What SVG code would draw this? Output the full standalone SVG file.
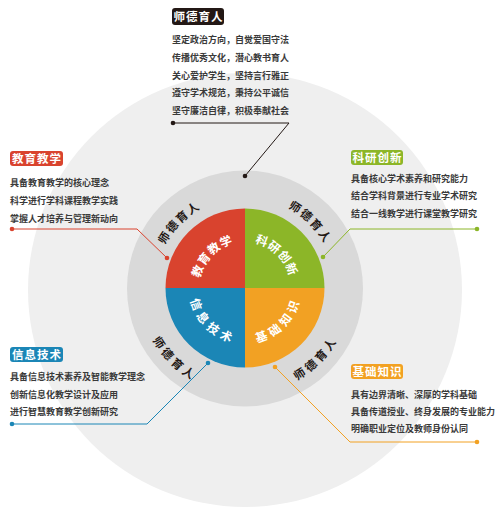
<svg xmlns="http://www.w3.org/2000/svg" width="499" height="511" viewBox="0 0 499 511">
<style>
.body{font-family:"Noto Sans CJK SC","Noto Sans",sans-serif;font-size:9px;font-weight:bold;fill:#3a3a3a;}
.lbl{font-family:"Noto Sans CJK SC","Noto Sans",sans-serif;font-size:11.5px;font-weight:bold;fill:#fff;letter-spacing:1px;}
.ring{font-family:"Noto Sans CJK SC","Noto Sans",sans-serif;font-size:11.5px;font-weight:bold;fill:#231815;letter-spacing:2.5px;}
.pie{font-family:"Noto Sans CJK SC","Noto Sans",sans-serif;font-size:12px;font-weight:bold;fill:#fff;letter-spacing:2.5px;}
.conn{fill:none;stroke-width:1;}
</style>
<defs>
<path id="rTL" d="M149,288 A96,96 0 0 1 245,192"/>
<path id="rTR" d="M245,192 A96,96 0 0 1 341,288"/>
<path id="rBL" d="M144,288 A101,101 0 0 0 245,389"/>
<path id="rBR" d="M245,389 A101,101 0 0 0 346,288"/>
<path id="pTL" d="M193,288 A52,52 0 0 1 245,236"/>
<path id="pTR" d="M245,236 A52,52 0 0 1 297,288"/>
<path id="pBL" d="M195,288 A50,50 0 0 0 245,338"/>
<path id="pBR" d="M245,338 A50,50 0 0 0 295,288"/>
</defs>
<rect width="499" height="511" fill="#fff"/>
<circle cx="245" cy="290" r="217" fill="#efefef"/>
<g id="ring-node">
<circle cx="245" cy="288.5" r="118" fill="#d9d9d9"/>
<text class="ring" dominant-baseline="central"><textPath href="#rTL" startOffset="50%" text-anchor="middle">师德育人</textPath></text>
<text class="ring" dominant-baseline="central"><textPath href="#rTR" startOffset="50%" text-anchor="middle">师德育人</textPath></text>
<text class="ring" dominant-baseline="central"><textPath href="#rBL" startOffset="50%" text-anchor="middle">师德育人</textPath></text>
<text class="ring" dominant-baseline="central"><textPath href="#rBR" startOffset="50%" text-anchor="middle">师德育人</textPath></text>
</g>
<g id="pie-red">
<path d="M245,288 L165.5,288 A79.5,79.5 0 0 1 245,208.5 Z" fill="#d9432e"/>
<text class="pie" dominant-baseline="central"><textPath href="#pTL" startOffset="50%" text-anchor="middle">教育教学</textPath></text>
</g>
<g id="pie-green">
<path d="M245,288 L245,208.5 A79.5,79.5 0 0 1 324.5,288 Z" fill="#8cb628"/>
<text class="pie" dominant-baseline="central"><textPath href="#pTR" startOffset="50%" text-anchor="middle">科研创新</textPath></text>
</g>
<g id="pie-blue">
<path d="M245,288 L165.5,288 A79.5,79.5 0 0 0 245,367.5 Z" fill="#1b86b6"/>
<text class="pie" dominant-baseline="central"><textPath href="#pBL" startOffset="50%" text-anchor="middle">信息技术</textPath></text>
</g>
<g id="pie-orange">
<path d="M245,288 L245,367.5 A79.5,79.5 0 0 0 324.5,288 Z" fill="#f2a123"/>
<text class="pie" dominant-baseline="central"><textPath href="#pBR" startOffset="50%" text-anchor="middle">基础知识</textPath></text>
</g>
<g id="connectors">
<polyline class="conn" stroke="#231815" points="173,123 289,123 245,176"/>
<circle cx="173" cy="123" r="2.3" fill="#231815"/><circle cx="245" cy="176" r="2.3" fill="#231815"/>
<polyline class="conn" stroke="#d9432e" points="12,229 137,229 167,258"/>
<circle cx="12" cy="229" r="2.3" fill="#d9432e"/><circle cx="167" cy="258" r="2.3" fill="#d9432e"/>
<polyline class="conn" stroke="#8cb628" points="477,229 350,229 323,257"/>
<circle cx="477" cy="229" r="2.3" fill="#8cb628"/><circle cx="323" cy="257" r="2.3" fill="#8cb628"/>
<polyline class="conn" stroke="#1b86b6" points="12,424 147,424 208,363"/>
<circle cx="12" cy="424" r="2.3" fill="#1b86b6"/><circle cx="208" cy="363" r="2.3" fill="#1b86b6"/>
<polyline class="conn" stroke="#f2a123" points="477,442 350,442 275,367"/>
<circle cx="477" cy="442" r="2.3" fill="#f2a123"/><circle cx="275" cy="367" r="2.3" fill="#f2a123"/>
</g>
<g id="label-top">
<rect x="172" y="8" width="52" height="17" rx="3" fill="#231815"/>
<text class="lbl" x="198.5" y="20.5" text-anchor="middle" font-size="12.5">师德育人</text>
<text class="body" x="172" y="42.5">坚定政治方向，自觉爱国守法</text>
<text class="body" x="172" y="60.5">传播优秀文化，潜心教书育人</text>
<text class="body" x="172" y="78.5">关心爱护学生，坚持言行雅正</text>
<text class="body" x="172" y="96">遵守学术规范，秉持公平诚信</text>
<text class="body" x="172" y="113.5">坚守廉洁自律，积极奉献社会</text>
</g>
<g id="label-red">
<rect x="10" y="151" width="53" height="15" rx="3" fill="#d9432e"/>
<text class="lbl" x="37" y="162.5" text-anchor="middle">教育教学</text>
<text class="body" x="10" y="185.7">具备教育教学的核心理念</text>
<text class="body" x="10" y="203.7">科学进行学科课程教学实践</text>
<text class="body" x="10" y="221.7">掌握人才培养与管理新动向</text>
</g>
<g id="label-green">
<rect x="351" y="150" width="52" height="15" rx="3" fill="#8cb628"/>
<text class="lbl" x="377.5" y="161.5" text-anchor="middle">科研创新</text>
<text class="body" x="351" y="181.5">具备核心学术素养和研究能力</text>
<text class="body" x="351" y="199">结合学科背景进行专业学术研究</text>
<text class="body" x="351" y="216.5">结合一线教学进行课堂教学研究</text>
</g>
<g id="label-blue">
<rect x="10" y="347" width="53" height="15" rx="3" fill="#1b86b6"/>
<text class="lbl" x="37" y="358.5" text-anchor="middle">信息技术</text>
<text class="body" x="10" y="380">具备信息技术素养及智能教学理念</text>
<text class="body" x="10" y="397.7">创新信息化教学设计及应用</text>
<text class="body" x="10" y="415">进行智慧教育教学创新研究</text>
</g>
<g id="label-orange">
<rect x="351" y="364" width="52" height="15" rx="3" fill="#f2a123"/>
<text class="lbl" x="377.5" y="375.5" text-anchor="middle">基础知识</text>
<text class="body" x="351" y="397.7">具有边界清晰、深厚的学科基础</text>
<text class="body" x="351" y="415">具备传道授业、终身发展的专业能力</text>
<text class="body" x="351" y="431.7">明确职业定位及教师身份认同</text>
</g>
</svg>
